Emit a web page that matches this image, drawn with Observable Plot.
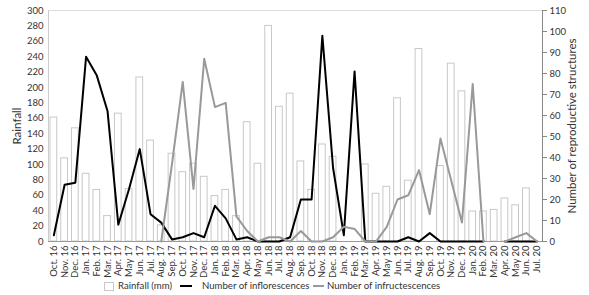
<!DOCTYPE html>
<html><head><meta charset="utf-8">
<script src="https://cdn.jsdelivr.net/npm/d3@7"></script>
<script src="https://cdn.jsdelivr.net/npm/@observablehq/plot@0.6"></script>
<style>
body{margin:0;background:#fff;font-family:Lato,"Open Sans",sans-serif;}
#chart{width:589px;height:295px;position:relative;}
.legend{position:absolute;left:0;top:277px;width:589px;height:18px;font-size:9.6px;color:#333;}
.legend span{position:absolute;top:3px;white-space:nowrap;}
.sw{position:absolute;}
</style></head><body>
<div id="chart"></div>
<script>
const months=["Oct. 16","Nov. 16","Dec. 16","Jan. 17","Feb. 17","Mar. 17","Apr. 17","May 17","Jun. 17","Jul. 17","Aug. 17","Sep. 17","Oct. 17","Nov. 17","Dec. 17","Jan. 18","Feb. 18","Mar. 18","Apr. 18","May 18","Jun. 18","Jul. 18","Aug. 18","Sep. 18","Oct. 18","Nov. 18","Dec. 18","Jan. 19","Feb. 19","Mar. 19","Apr. 19","May 19","Jun. 19","Jul. 19","Aug. 19","Sep. 19","Oct. 19","Nov. 19","Dec. 19","Jan. 20","Feb. 20","Mar. 20","Apr. 20","May 20","Jun. 20","Jul. 20"];
const rainfall=[161,108,147,88,67,33,166,68,213,131,21,114,90,101,84,59,67,33,155,101,280,175,192,104,67,126,110,0,0,100,62,71,186,79,250,0,98,231,195,39,39,41,56,47,69,0];
const inflorescences=[3,27,28,88,79,62,8,25,44,13,9,1,2,4,2,17,11,1,2,0,0,0,2,20,20,98,35,3,81,0,0,0,0,2,0,4,0,0,0,0,0,null,0,0,0,0];
const infructescences=[null,null,null,null,null,null,null,null,null,null,0,37,76,25,87,64,66,12,5,0,2,2,0,5,0,0,2,7,6,0,0,7,20,22,34,13,49,29,9,75,0,null,0,2,4,0];
const leftTicks=d3.range(0,301,20);
const rightTicks=d3.range(0,111,10);
const K=300/110;
const rows=months.map((m,i)=>({month:m,rain:rainfall[i],infl:inflorescences[i],infr:infructescences[i]}));
const plot=Plot.plot({
  width:589,height:277,marginLeft:48,marginRight:47,marginTop:10,marginBottom:36,
  style:{fontFamily:"Lato, 'Open Sans', sans-serif",fontSize:"9.5px",color:"#333",background:"#fff"},
  x:{type:"band",domain:months,padding:0,label:null},
  y:{domain:[0,300],label:null},
  marks:[
    Plot.ruleY([300],{stroke:"#ddd"}),
    Plot.barY(rows,{x:"month",y:"rain",fill:"white",stroke:"#c8c8c8",insetLeft:2,insetRight:2}),
    Plot.frame({anchor:"left",stroke:"#ccc"}),
    Plot.frame({anchor:"bottom",stroke:"#999"}),
    Plot.frame({anchor:"right",stroke:"#888"}),
    Plot.line(rows,{x:"month",y:d=>d.infl==null?NaN:d.infl*K,stroke:"#000",strokeWidth:2}),
    Plot.line(rows,{x:"month",y:d=>d.infr==null?NaN:d.infr*K,stroke:"#999",strokeWidth:2}),
    Plot.axisY({ticks:leftTicks,tickSize:0,tickPadding:5,label:"Rainfall",labelAnchor:"center",labelOffset:36,labelArrow:"none"}),
    Plot.axisY({anchor:"right",ticks:rightTicks.map(v=>v*K),tickFormat:v=>String(Math.round(v/K)),tickSize:4,tickPadding:3,stroke:"#888",label:"Number of reproductive structures",labelAnchor:"center",labelOffset:33,labelArrow:"none"}),
    Plot.axisX({tickRotate:-90,tickSize:0,tickPadding:4,label:null})
  ]
});
plot.querySelectorAll('text').forEach(t=>{
  const s=t.textContent;
  if(s==="Rainfall"||s==="Number of reproductive structures"){t.setAttribute("font-size","11.5px");t.style.fontSize="11.5px";}
});
const chart=document.getElementById("chart");
chart.appendChild(plot);
const lg=document.createElement("div");
lg.className="legend";
lg.innerHTML=`<div class="sw" style="left:104px;top:5px;width:8px;height:7px;border:1px solid #c8c8c8;background:#fff"></div>
<span style="left:118px">Rainfall (mm)</span>
<div class="sw" style="left:180px;top:8px;width:12px;height:2px;background:#000"></div>
<span style="left:202px">Number of inflorescences</span>
<div class="sw" style="left:313px;top:8px;width:11px;height:2px;background:#999"></div>
<span style="left:327px">Number of infructescences</span>`;
chart.appendChild(lg);
</script>
</body></html>
